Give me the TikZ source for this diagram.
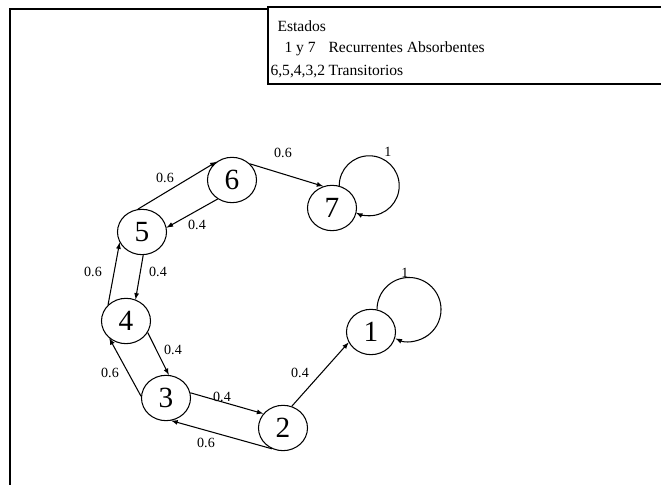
\documentclass[tikz,border=0pt]{standalone}
\usepackage{fontspec}
\setmainfont{Liberation Serif}
\usetikzlibrary{shapes.geometric}

\begin{document}
\begin{tikzpicture}[x=0.03cm, y=0.03cm, >=latex, line width=0.9pt,
  state/.style = {draw, ellipse, minimum width=1.47cm, minimum height=1.36cm,
    inner sep=0pt, font=\fontsize{25}{25}\selectfont},
  prob/.style = {inner sep=0pt, font=\fontsize{12}{12}\selectfont},
  legend/.style = {anchor=base west, inner sep=0pt, font=\fontsize{13.3}{13}\selectfont}]
  \useasboundingbox (0, 0) rectangle (661, 485);

  \draw (268, 476) -- (10, 476) -- (10, 0);
  \draw (663, 478) -- (268, 478) -- (268, 401) -- (663, 401);

  \node[legend] (estados) at (277, 453) {Estados};
  \node[legend] (abs) at (284, 432) {1 y 7};
  \node[legend] (absname) at (328, 432) {Recurrentes Absorbentes};
  \node[legend] (tra) at (270, 409) {6,5,4,3,2};
  \node[legend] (traname) at (328, 409) {Transitorios};

  \node[state] (n1) at (371, 153) {1};
  \node[state] (n2) at (283, 57) {2};
  \node[state] (n3) at (166, 87) {3};
  \node[state] (n4) at (126, 164) {4};
  \node[state] (n5) at (142, 253) {5};
  \node[state] (n6) at (232, 305) {6};
  \node[state] (n7) at (332, 277) {7};

  \draw[->] (n5.100) -- (n6.130);
  \draw[->] (n6.233) -- (n5.10);
  \draw[->] (n6.42) -- (n7.112);
  \draw[->] (n5.273) -- (n4.66);
  \draw[->] (n4.138) -- (n5.205);
  \draw[->] (n4.332) -- (n3.83);
  \draw[->] (n3.176) -- (n4.226);
  \draw[->] (n3.12) -- (n2.144);
  \draw[->] (n2.242) -- (n3.283);
  \draw[->] (n2.68) -- (n1.205);

  \draw[->] (n7.72) arc[start angle=180, end angle=-116, radius=30];
  \draw[->] (n1.75) arc[start angle=180, end angle=-115, radius=32];

  \node[prob] (p56) at (165, 307) {0.6};
  \node[prob] (p65) at (197, 260) {0.4};
  \node[prob] (p67) at (283, 332) {0.6};
  \node[prob] (p54) at (158, 213) {0.4};
  \node[prob] (p45) at (93, 213) {0.6};
  \node[prob] (p43) at (173, 135) {0.4};
  \node[prob] (p34) at (110, 112) {0.6};
  \node[prob] (p32) at (222, 88) {0.4};
  \node[prob] (p23) at (206, 42) {0.6};
  \node[prob] (p21) at (300, 112) {0.4};
  \node[prob] (p77) at (388, 333) {1};
  \node[prob] (p11) at (405, 212) {1};
\end{tikzpicture}
\end{document}
